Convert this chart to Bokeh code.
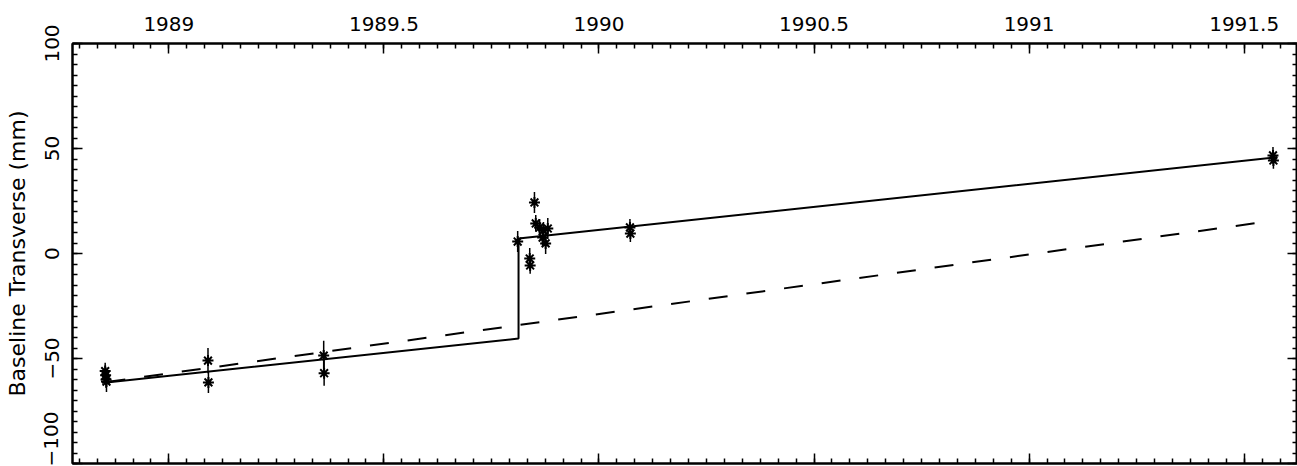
import numpy as np
from bokeh.plotting import figure
from bokeh.models import Range1d, LinearAxis, FixedTicker, ColumnDataSource
from bokeh.embed import file_html
from bokeh.resources import INLINE

# ---- data ----
epochs = [1988.852, 1988.853, 1988.854, 1988.855,
          1989.091, 1989.092,
          1989.360, 1989.361,
          1989.811, 1989.850, 1989.853, 1989.862, 1989.871, 1989.881,
          1989.869, 1989.876, 1989.839, 1989.840,
          1990.072, 1990.073,
          1991.567, 1991.568]
transverse_mm = [-56.0, -58.0, -60.0, -61.0,
                 -51.0, -61.4,
                 -48.6, -57.0,
                 5.7, 24.3, 14.3, 12.4, 11.0, 11.9,
                 7.6, 4.8, -2.4, -5.7,
                 12.4, 9.5,
                 46.7, 44.3]
sigma_mm = [4.0, 4.0, 4.0, 5.0,
            6.0, 5.0,
            7.0, 6.0,
            5.0, 5.0, 4.0, 4.0, 4.0, 5.0,
            4.0, 5.0, 5.0, 4.0,
            4.0, 4.0,
            4.0, 4.0]

fit_epochs = [1988.855, 1989.813, 1989.813, 1991.568]
fit_mm = [-61.4, -40.5, 7.1, 45.7]
trend_epochs = [1988.855, 1991.568]
trend_mm = [-61.2, 15.6]

x_ticks = [1989, 1989.5, 1990, 1990.5, 1991, 1991.5]
x_tick_labels = ["1989", "1989.5", "1990", "1990.5", "1991", "1991.5"]
y_ticks = [-100, -50, 0, 50, 100]
y_tick_labels = ["\u2212100", "\u221250", "0", "50", "100"]
y_title = "Baseline Transverse (mm)"

FONT = "DejaVu Sans"

x_minor = list(np.arange(1988.75, 1991.7, 1.0 / 24.0))
y_minor = list(range(-100, 101, 5))

p = figure(width=1297, height=466,
           x_range=Range1d(1988.776, 1991.624),
           y_range=Range1d(-100, 100),
           x_axis_location="above",
           output_backend="svg", toolbar_location=None,
           min_border_left=72, min_border_right=0,
           min_border_top=43, min_border_bottom=3)
p.xgrid.visible = False
p.ygrid.visible = False
p.outline_line_color = "black"
p.outline_line_width = 2
p.background_fill_color = "white"
p.border_fill_color = "white"


def style_axis(ax, ticks, minor, labels=None, standoff=0):
    ax.ticker = FixedTicker(ticks=ticks, minor_ticks=minor)
    ax.axis_line_color = "black"
    ax.axis_line_width = 2
    ax.major_tick_line_color = "black"
    ax.major_tick_line_width = 1.5
    ax.minor_tick_line_color = "black"
    ax.minor_tick_line_width = 1.5
    ax.major_tick_in = 10
    ax.major_tick_out = 0
    ax.minor_tick_in = 5
    ax.minor_tick_out = 0
    ax.major_label_standoff = standoff
    if labels is None:
        ax.major_label_overrides = {t: "" for t in ticks}
        ax.major_label_text_font_size = "0px"
        ax.major_label_text_alpha = 0
    else:
        ax.major_label_overrides = {t: l for t, l in zip(ticks, labels)}
        ax.major_label_text_font = FONT
        ax.major_label_text_font_size = "20px"
        ax.major_label_text_color = "black"


top = p.xaxis[0]
style_axis(top, x_ticks, x_minor, x_tick_labels, standoff=13)

left = p.yaxis[0]
style_axis(left, y_ticks, y_minor, y_tick_labels, standoff=14)
left.major_label_orientation = "parallel"
left.axis_label = y_title
left.axis_label_text_font = FONT
left.axis_label_text_font_size = "22px"
left.axis_label_text_font_style = "normal"
left.axis_label_text_color = "black"
left.axis_label_standoff = 12

bottom = LinearAxis()
style_axis(bottom, x_ticks, x_minor)
p.add_layout(bottom, "below")

right = LinearAxis()
style_axis(right, y_ticks, y_minor)
p.add_layout(right, "right")

# ---- glyphs ----
src = ColumnDataSource(dict(
    x=epochs, y=transverse_mm,
    lo=[v - s for v, s in zip(transverse_mm, sigma_mm)],
    hi=[v + s for v, s in zip(transverse_mm, sigma_mm)],
))

p.line(trend_epochs, trend_mm, line_color="black", line_width=2, line_dash="19 19")
p.line(fit_epochs, fit_mm, line_color="black", line_width=2)
p.segment(x0="x", y0="lo", x1="x", y1="hi", source=src, line_color="black", line_width=1.5)
p.scatter("x", "y", source=src, marker="asterisk", size=11, line_color="black", line_width=2)

open("out.html", "w").write(file_html(p, INLINE))
